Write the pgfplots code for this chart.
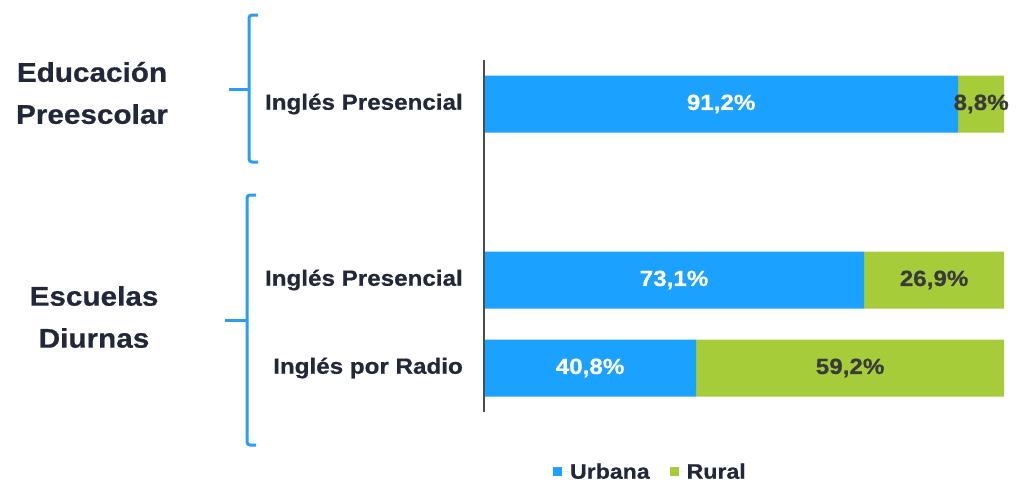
\documentclass[border=0pt]{standalone}
\usepackage{pgfplots}
\pgfplotsset{compat=1.18}
\usepackage{fontspec}
\setmainfont[FakeStretch=1.1, BoldFeatures={FakeBold=0.6}]{Liberation Sans}
\definecolor{urb}{RGB}{27,161,255}
\definecolor{rur}{RGB}{166,205,57}
\definecolor{bracec}{RGB}{42,157,244}
\definecolor{txt}{RGB}{34,39,58}
\definecolor{lbl}{RGB}{58,58,58}
\pgfplotsset{
  geom/.style={at={(484pt,-412pt)}, anchor=south west, scale only axis,
    width=520pt, height=352pt, xmin=0, xmax=100, ymin=-0.5, ymax=3.5},
}
\begin{document}
\begin{tikzpicture}[x=1pt,y=1pt]
\path (0,0) rectangle (1020,-481);
\begin{axis}[geom,
  xbar stacked, bar width=57pt,
  axis x line=none, axis y line*=left, xtick=\empty,
  ytick={0,1,3},
  yticklabels={Inglés por Radio,Inglés Presencial,Inglés Presencial},
  major tick length=0pt,
  yticklabel style={font=\fontsize{22}{26}\selectfont\bfseries, text=txt, inner sep=0pt, xshift=-21pt},
  axis line style={draw=black!70, line width=1.5pt},
  axis on top,
  legend columns=2,
  legend style={draw=none, fill=none, at={(0.32,-0.17)}, anchor=center,
    font=\fontsize{21}{24}\selectfont\bfseries, text=txt,
    /tikz/every even column/.append style={column sep=18pt}},
  legend image code/.code={\fill[#1] (0pt,-4.5pt) rectangle (9pt,4.5pt); \path (0pt,0pt) -- (15pt,0pt);},
]
\addplot[fill=urb, draw=none] coordinates {(40.8,0) (73.1,1) (91.2,3)};
\addplot[fill=rur, draw=none] coordinates {(59.2,0) (26.9,1) (8.8,3)};
\legend{Urbana,Rural}
\end{axis}
\begin{axis}[geom, hide axis]
\addplot[draw=none, nodes near coords, point meta=explicit symbolic,
  every node near coord/.append style={anchor=center, text=white, font=\fontsize{22}{26}\selectfont\bfseries}]
  coordinates {(20.4,0) [40,8\%] (36.55,1) [73,1\%] (45.6,3) [91,2\%]};
\addplot[draw=none, nodes near coords, point meta=explicit symbolic,
  every node near coord/.append style={anchor=center, text=lbl, font=\fontsize{22}{26}\selectfont\bfseries}]
  coordinates {(70.4,0) [59,2\%] (86.55,1) [26,9\%] (95.6,3) [8,8\%]};
\end{axis}
\draw[bracec, line width=3pt, rounded corners=3pt] (258,-15) -- (249,-15) -- (249,-162) -- (258,-162);
\draw[bracec, line width=3pt] (229,-89) -- (249,-89);
\draw[bracec, line width=3pt, rounded corners=3pt] (256,-195) -- (247,-195) -- (247,-445) -- (256,-445);
\draw[bracec, line width=3pt] (225,-320) -- (247,-320);
\node[font=\fontsize{27}{42}\selectfont\bfseries, text=txt, align=center] at (92,-93) {Educación\\Preescolar};
\node[font=\fontsize{27}{42}\selectfont\bfseries, text=txt, align=center] at (94,-317) {Escuelas\\Diurnas};
\end{tikzpicture}
\end{document}
